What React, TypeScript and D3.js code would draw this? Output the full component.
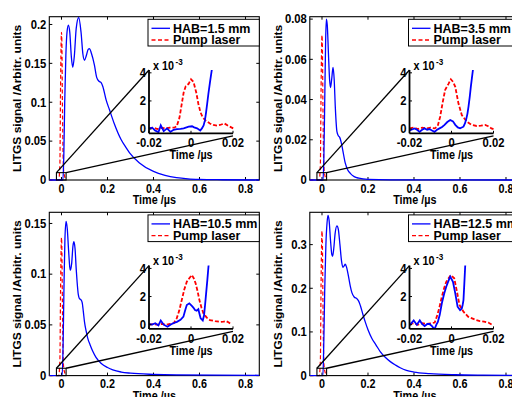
import React from 'react';
import * as d3 from 'd3';

type P = [number, number];

// ---------- data ----------
const habLabels = ['HAB=1.5 mm', 'HAB=3.5 mm', 'HAB=10.5 mm', 'HAB=12.5 mm'];
const pumpLabel = 'Pump laser';
const yMaxes = [0.21, 0.0812, 0.161, 0.374];
const yTicks15 = [0, 0.05, 0.1, 0.15, 0.2];
const yTicks35 = [0, 0.02, 0.04, 0.06, 0.08];
const yTicks105 = [0, 0.05, 0.1, 0.15];
const yTicks125 = [0, 0.1, 0.2, 0.3];
const xTicks = [0, 0.2, 0.4, 0.6, 0.8];
const insetXTicks = [-0.02, 0, 0.02];
const insetYTicks = [0, 2, 4]; // x 10^-3

const signal15: P[] = [[-0.053,0],[0.006,0],[0.010,0.03],[0.014,0.1],[0.019,0.16],[0.024,0.19],[0.030,0.199],[0.036,0.19],[0.043,0.158],[0.049,0.145],[0.056,0.16],[0.064,0.195],[0.075,0.209],[0.085,0.19],[0.093,0.162],[0.100,0.154],[0.108,0.16],[0.116,0.168],[0.122,0.169],[0.130,0.163],[0.143,0.148],[0.153,0.132],[0.163,0.127],[0.173,0.125],[0.18,0.12],[0.194,0.103],[0.209,0.09],[0.23,0.072],[0.259,0.052],[0.28,0.042],[0.296,0.035],[0.339,0.022],[0.4,0.011],[0.45,0.006],[0.5,0.003],[0.55,0.0015],[0.6,0.0008],[0.7,0.0003],[0.86,0]];
const pump15: P[] = [[-0.053,0],[-0.012,0],[-0.007,0.02],[-0.004,0.12],[-0.002,0.17],[0,0.19],[0.002,0.17],[0.004,0.1],[0.007,0.03],[0.01,0.01],[0.02,0]];
const signal35: P[] = [[-0.053,0],[0.004,0],[0.008,0.01],[0.012,0.04],[0.016,0.07],[0.019,0.080],[0.023,0.077],[0.028,0.063],[0.033,0.05],[0.037,0.046],[0.042,0.05],[0.048,0.056],[0.053,0.05],[0.058,0.036],[0.065,0.024],[0.071,0.022],[0.077,0.0212],[0.083,0.019],[0.09,0.015],[0.101,0.0085],[0.112,0.005],[0.123,0.0033],[0.14,0.0017],[0.16,0.0009],[0.2,0.0003],[0.3,0.0001],[0.86,0]];
const pump35: P[] = [[-0.053,0],[-0.012,0],[-0.007,0.008],[-0.004,0.045],[-0.002,0.064],[0,0.072],[0.002,0.064],[0.004,0.038],[0.007,0.011],[0.01,0.004],[0.02,0]];
const signal105: P[] = [[-0.053,0],[0.003,0],[0.007,0.03],[0.011,0.09],[0.015,0.135],[0.020,0.152],[0.025,0.145],[0.031,0.123],[0.036,0.107],[0.039,0.104],[0.044,0.11],[0.05,0.128],[0.054,0.132],[0.059,0.125],[0.064,0.105],[0.068,0.092],[0.073,0.08],[0.078,0.076],[0.084,0.075],[0.090,0.072],[0.095,0.063],[0.1,0.053],[0.107,0.044],[0.114,0.037],[0.125,0.03],[0.136,0.024],[0.15,0.018],[0.173,0.012],[0.2,0.008],[0.223,0.0056],[0.26,0.0035],[0.3,0.0024],[0.4,0.0012],[0.5,0.0007],[0.86,0.0003]];
const pump105: P[] = [[-0.053,0],[-0.012,0],[-0.007,0.015],[-0.004,0.085],[-0.002,0.12],[0,0.136],[0.002,0.12],[0.004,0.072],[0.007,0.02],[0.01,0.007],[0.02,0]];
const signal125: P[] = [[-0.053,0],[0.004,0],[0.008,0.08],[0.012,0.2],[0.017,0.3],[0.022,0.35],[0.026,0.367],[0.031,0.355],[0.037,0.31],[0.042,0.28],[0.046,0.273],[0.051,0.29],[0.057,0.325],[0.065,0.343],[0.071,0.335],[0.078,0.3],[0.085,0.262],[0.091,0.248],[0.097,0.252],[0.101,0.255],[0.107,0.248],[0.116,0.225],[0.123,0.205],[0.130,0.19],[0.14,0.18],[0.152,0.176],[0.16,0.17],[0.167,0.16],[0.178,0.14],[0.188,0.123],[0.2,0.105],[0.217,0.085],[0.235,0.07],[0.253,0.055],[0.275,0.042],[0.297,0.032],[0.32,0.024],[0.34,0.018],[0.367,0.012],[0.4,0.008],[0.468,0.0045],[0.58,0.002],[0.7,0.001],[0.86,0.0005]];
const pump125: P[] = [[-0.053,0],[-0.012,0],[-0.007,0.035],[-0.004,0.21],[-0.002,0.295],[0,0.331],[0.002,0.295],[0.004,0.175],[0.007,0.05],[0.01,0.017],[0.02,0]];

// inset data (x in µs, y in units of 10^-3)
const insetSignal15: P[] = [[-0.02,0.05],[-0.0185,0.1],[-0.0171,-0.1],[-0.0155,-0.22],[-0.0144,0.26],[-0.013,-0.15],[-0.0114,0.05],[-0.0098,-0.2],[-0.0083,-0.05],[-0.0067,0],[-0.005,0.02],[-0.0035,0.05],[-0.0011,0.17],[0.0005,0.2],[0.0015,0.12],[0.0029,0.05],[0.0044,-0.1],[0.0052,0.05],[0.006,0.26],[0.0066,0.6],[0.0071,1.1],[0.0077,1.8],[0.0083,2.53],[0.0091,3.4],[0.0099,4.2],[0.0102,4.6]];
const insetPump15: P[] = [[-0.02,0.05],[-0.018,0.1],[-0.016,0.0],[-0.014,0.08],[-0.012,0.05],[-0.010,0.1],[-0.008,0.1],[-0.0068,0.2],[-0.0055,0.8],[-0.0045,1.7],[-0.0035,2.6],[-0.0025,3.05],[-0.0012,3.2],[0,3.54],[0.0012,3.35],[0.0025,2.6],[0.0035,1.8],[0.0045,1.2],[0.0055,0.85],[0.007,0.6],[0.009,0.4],[0.0106,0.29],[0.0125,0.25],[0.0138,0.29],[0.0159,0.4],[0.0175,0.25],[0.0201,0.05]];
const insetSignal35: P[] = [[-0.02,-0.1],[-0.0176,0.05],[-0.0164,-0.05],[-0.0152,-0.2],[-0.014,-0.05],[-0.0128,0.05],[-0.0116,-0.05],[-0.0105,0],[-0.0093,-0.1],[-0.0081,-0.2],[-0.0069,-0.05],[-0.0057,0.05],[-0.0045,0.15],[-0.0033,0.3],[-0.002,0.5],[-0.0006,0.65],[0.0007,0.55],[0.0018,0.3],[0.003,0.12],[0.0041,0.05],[0.0057,0.17],[0.0064,0.4],[0.007,0.7],[0.0076,1.1],[0.0081,1.6],[0.0087,2.3],[0.0092,3.0],[0.0097,3.6],[0.0102,4.2],[0.0105,4.6]];
const insetPump35: P[] = [[-0.02,0.05],[-0.018,0.1],[-0.016,0.0],[-0.014,0.1],[-0.012,0.05],[-0.010,0.1],[-0.008,0.05],[-0.0066,0.2],[-0.0054,0.88],[-0.0042,1.9],[-0.003,2.8],[-0.0015,3.2],[-0.0003,3.54],[0.0008,3.35],[0.0018,3.0],[0.0033,1.83],[0.0049,1.0],[0.0073,0.52],[0.0095,0.3],[0.012,0.22],[0.014,0.25],[0.016,0.29],[0.0175,0.2],[0.019,0.05],[0.02,0.0]];
const insetSignal105: P[] = [[-0.02,0.05],[-0.0185,0.0],[-0.017,0.1],[-0.0155,-0.05],[-0.0144,0.3],[-0.013,0.0],[-0.0112,-0.15],[-0.0098,0.0],[-0.0085,0.1],[-0.0067,0.2],[-0.005,0.35],[-0.0036,0.57],[-0.0028,1.0],[-0.002,1.4],[-0.0008,1.52],[0.0004,1.33],[0.0012,1.2],[0.0019,1.04],[0.0027,1.0],[0.0035,1.1],[0.004,0.8],[0.0046,0.45],[0.0056,0.3],[0.0062,0.65],[0.0067,1.4],[0.0072,2.23],[0.0078,3.2],[0.0083,4.1],[0.0086,4.6]];
const insetPump105: P[] = [[-0.02,0.0],[-0.018,0.05],[-0.016,0.0],[-0.014,0.05],[-0.012,0.0],[-0.010,0.05],[-0.0082,0.1],[-0.0068,0.45],[-0.0056,1.0],[-0.0044,1.75],[-0.0032,2.5],[-0.002,3.05],[-0.0008,3.3],[0.0004,3.53],[0.0013,3.3],[0.0022,2.94],[0.0031,2.4],[0.004,1.75],[0.005,1.2],[0.0059,0.81],[0.0075,0.5],[0.009,0.33],[0.0115,0.25],[0.0138,0.2],[0.0155,0.22],[0.0167,0.26],[0.018,0.15],[0.0194,0.0]];
const insetSignal125: P[] = [[-0.02,-0.05],[-0.018,0.3],[-0.0165,0.0],[-0.0151,0.3],[-0.014,0.05],[-0.0128,-0.1],[-0.0115,0.05],[-0.0105,0.05],[-0.0093,-0.1],[-0.0081,-0.33],[-0.0072,0.0],[-0.0065,0.2],[-0.0056,0.7],[-0.0046,1.52],[-0.0035,2.2],[-0.0025,2.7],[-0.0015,3.1],[-0.0006,3.42],[0.0007,3.05],[0.0018,2.23],[0.0029,1.28],[0.0041,1.04],[0.0049,1.15],[0.0053,1.4],[0.0057,1.75],[0.0061,2.9],[0.0065,4.1],[0.0067,4.6]];
const insetPump125: P[] = [[-0.02,0.05],[-0.018,0.1],[-0.016,0.0],[-0.014,0.1],[-0.012,0.05],[-0.01,0.1],[-0.008,0.15],[-0.007,0.57],[-0.0058,1.2],[-0.0046,1.99],[-0.0035,2.6],[-0.0025,3.05],[-0.0014,3.3],[-0.0003,3.53],[0.0013,3.3],[0.0026,2.35],[0.0038,1.4],[0.0057,0.92],[0.0079,0.57],[0.0098,0.45],[0.0117,0.33],[0.0135,0.25],[0.0155,0.22],[0.0175,0.15],[0.0193,0.0]];

const panels = [
  { label: habLabels[0], yMax: yMaxes[0], yTicks: yTicks15, sig: signal15, pump: pump15, iSig: insetSignal15, iPump: insetPump15 },
  { label: habLabels[1], yMax: yMaxes[1], yTicks: yTicks35, sig: signal35, pump: pump35, iSig: insetSignal35, iPump: insetPump35 },
  { label: habLabels[2], yMax: yMaxes[2], yTicks: yTicks105, sig: signal105, pump: pump105, iSig: insetSignal105, iPump: insetPump105 },
  { label: habLabels[3], yMax: yMaxes[3], yTicks: yTicks125, sig: signal125, pump: pump125, iSig: insetSignal125, iPump: insetPump125 },
];

// ---------- layout ----------
const W = 512, H = 397;
const DX = 260.5, DY = 195.6;
const ML = 49.3, MR = 259.3, MT = 16.7, MB = 180;
const X_DOMAIN = [-0.053, 0.86];
const IL = 149, IR = 233, IT = 70, IB = 133.3;
const I_X_DOMAIN = [-0.02, 0.02];
const I_Y_DOMAIN = [-0.3, 4.2];
const SX = 0.9;
const FONT = "'Liberation Sans', Arial, Helvetica, sans-serif";
const BLUE = '#0000ff';
const RED = '#ff0000';

function T({ x, y, size, anchor = 'middle', rot = false, sx = SX, children }: any) {
  const tr = rot ? `translate(${x},${y}) scale(${sx},1) rotate(-90)` : `translate(${x},${y}) scale(${sx},1)`;
  return (
    <text transform={tr} fontSize={size} textAnchor={anchor} fontWeight="bold" fontFamily={FONT} fill="#000">
      {children}
    </text>
  );
}

const fmt = (v: number) => (v === 0 ? '0' : String(+v.toFixed(3)));

function Panel({ idx, cfg }: any) {
  const ox = (idx % 2) * DX;
  const oy = Math.floor(idx / 2) * DY;
  const x = d3.scaleLinear().domain(X_DOMAIN).range([ML, MR]);
  const y = d3.scaleLinear().domain([0, cfg.yMax]).range([MB, MT]);
  const ix = d3.scaleLinear().domain(I_X_DOMAIN).range([IL, IR]);
  const iy = d3.scaleLinear().domain(I_Y_DOMAIN).range([IB, IT]);
  const line = d3.line<P>().x(d => x(d[0])).y(d => y(d[1])).curve(d3.curveMonotoneX);
  const iline = d3.line<P>().x(d => ix(d[0])).y(d => iy(d[1])).curve(d3.curveLinear);
  const clipId = `clip-main-${idx}`;
  const iclipId = `clip-inset-${idx}`;
  const rx0 = x(-0.022), rx1 = x(0.02), ry1 = y(cfg.yMax * 0.045), ry0 = y(0);
  const tk = 3;
  return (
    <g transform={`translate(${ox},${oy})`}>
      <defs>
        <clipPath id={clipId}><rect x={ML} y={MT - 1} width={MR - ML} height={MB - MT + 2} /></clipPath>
        <clipPath id={iclipId}><rect x={IL} y={IT} width={IR - IL + 1} height={IB - IT} /></clipPath>
      </defs>
      <rect x={ML} y={MT} width={MR - ML} height={MB - MT} fill="#fff" stroke="#000" strokeWidth={1.1} />
      {xTicks.map(t => (
        <g key={'xt' + t}>
          <line x1={x(t)} x2={x(t)} y1={MB} y2={MB - tk} stroke="#000" strokeWidth={1} />
          <line x1={x(t)} x2={x(t)} y1={MT} y2={MT + tk} stroke="#000" strokeWidth={1} />
          <T x={x(t)} y={MB + 12.5} size={12}>{fmt(t)}</T>
        </g>
      ))}
      {cfg.yTicks.map((t: number) => (
        <g key={'yt' + t}>
          <line x1={ML} x2={ML + tk} y1={y(t)} y2={y(t)} stroke="#000" strokeWidth={1} />
          <line x1={MR} x2={MR - tk} y1={y(t)} y2={y(t)} stroke="#000" strokeWidth={1} />
          <T x={ML - 3} y={y(t) + 4.3} size={12.5} anchor="end">{fmt(t)}</T>
        </g>
      ))}
      <T x={(ML + MR) / 2} y={MB + 24} size={12}>Time /µs</T>
      <T x={21} y={(MT + MB) / 2} size={12} rot>LITGS signal /Arbitr. units</T>
      <g clipPath={`url(#${clipId})`}>
        <path d={line(cfg.pump) || ''} fill="none" stroke={RED} strokeWidth={1.2} strokeDasharray="4,2.5" />
        <path d={line(cfg.sig) || ''} fill="none" stroke={BLUE} strokeWidth={1.3} />
      </g>
      <rect x={rx0} y={ry1} width={rx1 - rx0} height={ry0 - ry1} fill="none" stroke="#000" strokeWidth={1.1} />
      <line x1={rx0} y1={ry1} x2={IL} y2={IT} stroke="#000" strokeWidth={1.3} />
      <line x1={rx1} y1={ry1} x2={IR} y2={IB + 2.5} stroke="#000" strokeWidth={1.3} />
      <rect x={148} y={MT + 2.6} width={MR - 148} height={26.7} fill="#fff" stroke="#000" strokeWidth={1} />
      <line x1={151.5} x2={170} y1={MT + 11.6} y2={MT + 11.6} stroke={BLUE} strokeWidth={1.3} />
      <line x1={151.5} x2={170} y1={MT + 23.3} y2={MT + 23.3} stroke={RED} strokeWidth={1.3} strokeDasharray="4,2.5" />
      <T x={173} y={MT + 16} size={12.5} sx={1} anchor="start">{cfg.label}</T>
      <T x={173} y={MT + 27.6} size={12.5} sx={1} anchor="start">{pumpLabel}</T>
      <g clipPath={`url(#${iclipId})`}>
        <path d={iline(cfg.iPump) || ''} fill="none" stroke={RED} strokeWidth={1.8} strokeDasharray="4,2" />
        <path d={iline(cfg.iSig) || ''} fill="none" stroke={BLUE} strokeWidth={1.8} />
      </g>
      <line x1={IL} x2={IL} y1={IT} y2={IB} stroke="#000" strokeWidth={1.8} />
      <line x1={IL} x2={IR} y1={IB} y2={IB} stroke="#000" strokeWidth={1.8} />
      {insetXTicks.map(t => (
        <g key={'ixt' + t}>
          <line x1={ix(t)} x2={ix(t)} y1={IB} y2={IB - 2.5} stroke="#000" strokeWidth={1} />
          <T x={ix(t)} y={IB + 14} size={12.5}>{fmt(t)}</T>
        </g>
      ))}
      {insetYTicks.map(t => (
        <g key={'iyt' + t}>
          <line x1={IL} x2={IL + 2.5} y1={iy(t)} y2={iy(t)} stroke="#000" strokeWidth={1} />
          <T x={IL - 3} y={iy(t) + 4.4} size={12.5} anchor="end">{String(t)}</T>
        </g>
      ))}
      <T x={IL + 4} y={IT - 0.5} size={12} anchor="start">x 10</T>
      <T x={IL + 26.5} y={IT - 5.5} size={9} anchor="start">-3</T>
      <T x={(IL + IR) / 2} y={IB + 26} size={12}>Time /µs</T>
    </g>
  );
}

export default function App() {
  return (
    <svg width={W} height={H} style={{ position: 'absolute', left: 0, top: 0 }} xmlns="http://www.w3.org/2000/svg">
      <rect x={0} y={0} width={W} height={H} fill="#fff" />
      {panels.map((p, i) => <Panel key={i} idx={i} cfg={p} />)}
    </svg>
  );
}
